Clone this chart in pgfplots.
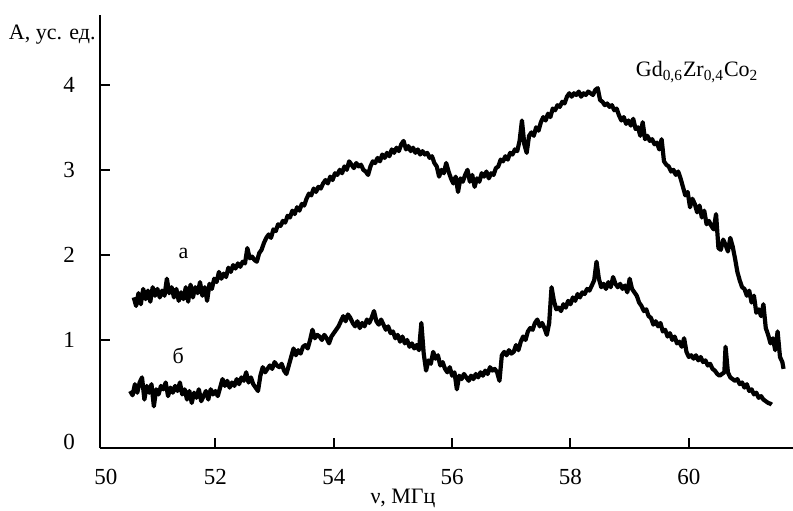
\documentclass[border=0pt]{standalone}
\usepackage{fontspec}
\setmainfont{Liberation Serif}
\usepackage{pgfplots}
\pgfplotsset{compat=1.18}

% curve a (upper)
\pgfplotstableread{
x y
50.62 1.50
50.66 1.40
50.70 1.55
50.74 1.42
50.78 1.60
50.82 1.48
50.86 1.58
50.90 1.45
50.94 1.62
50.98 1.52
51.02 1.60
51.06 1.50
51.10 1.58
51.14 1.52
51.18 1.72
51.22 1.55
51.26 1.62
51.30 1.50
51.34 1.60
51.38 1.46
51.42 1.56
51.46 1.48
51.50 1.62
51.54 1.45
51.58 1.65
51.62 1.50
51.66 1.62
51.70 1.55
51.74 1.68
51.78 1.52
51.82 1.62
51.86 1.46
51.90 1.66
51.94 1.60
51.98 1.72
52.02 1.68
52.06 1.80
52.10 1.72
52.14 1.78
52.18 1.74
52.22 1.85
52.26 1.80
52.30 1.88
52.34 1.84
52.38 1.90
52.42 1.86
52.46 1.92
52.50 1.90
52.54 2.08
52.58 1.96
52.62 1.98
52.66 1.94
52.70 1.92
52.74 2.02
52.78 2.06
52.82 2.14
52.86 2.20
52.90 2.24
52.94 2.20
52.98 2.30
53.02 2.28
53.06 2.36
53.10 2.34
53.14 2.40
53.18 2.38
53.22 2.46
53.26 2.44
53.30 2.52
53.34 2.48
53.38 2.56
53.42 2.52
53.46 2.60
53.50 2.58
53.54 2.66
53.58 2.72
53.62 2.70
53.66 2.78
53.70 2.74
53.74 2.80
53.78 2.78
53.82 2.84
53.86 2.88
53.90 2.84
53.94 2.92
53.98 2.88
54.02 2.96
54.06 2.94
54.10 3.00
54.14 2.96
54.18 3.04
54.22 3.00
54.26 3.10
54.30 3.06
54.34 3.02
54.38 3.08
54.42 3.04
54.46 3.06
54.50 3.00
54.54 2.98
54.58 2.94
54.62 3.04
54.66 3.10
54.70 3.08
54.74 3.14
54.78 3.10
54.82 3.18
54.86 3.14
54.90 3.20
54.94 3.16
54.98 3.24
55.02 3.20
55.06 3.26
55.10 3.22
55.14 3.30
55.18 3.34
55.22 3.24
55.26 3.28
55.30 3.22
55.34 3.26
55.38 3.20
55.42 3.24
55.46 3.18
55.50 3.22
55.54 3.18
55.58 3.20
55.62 3.14
55.66 3.16
55.70 3.08
55.74 3.04
55.78 2.92
55.82 3.00
55.86 2.96
55.90 3.08
55.94 2.98
55.98 2.90
56.02 2.84
56.06 2.92
56.10 2.74
56.14 2.90
56.18 2.86
56.22 2.94
56.26 3.00
56.30 2.86
56.34 2.94
56.38 2.80
56.42 2.90
56.46 2.86
56.50 2.96
56.54 2.92
56.58 2.98
56.62 2.90
56.66 2.96
56.70 2.94
56.74 3.02
56.78 3.04
56.82 3.12
56.86 3.10
56.90 3.16
56.94 3.12
56.98 3.20
57.02 3.18
57.06 3.24
57.10 3.22
57.14 3.34
57.18 3.58
57.22 3.30
57.26 3.20
57.30 3.40
57.34 3.44
57.38 3.40
57.42 3.50
57.46 3.46
57.50 3.56
57.54 3.62
57.58 3.58
57.62 3.66
57.66 3.62
57.70 3.72
57.74 3.70
57.78 3.76
57.82 3.74
57.86 3.80
57.90 3.78
57.94 3.86
57.98 3.90
58.02 3.86
58.06 3.90
58.10 3.88
58.14 3.92
58.18 3.86
58.22 3.90
58.26 3.88
58.30 3.92
58.34 3.90
58.38 3.88
58.42 3.94
58.46 3.96
58.50 3.82
58.54 3.80
58.58 3.76
58.62 3.78
58.66 3.74
58.70 3.76
58.74 3.70
58.78 3.72
58.82 3.64
58.86 3.58
58.90 3.62
58.94 3.54
58.98 3.58
59.02 3.52
59.06 3.60
59.10 3.48
59.14 3.50
59.18 3.40
59.22 3.56
59.26 3.36
59.30 3.40
59.34 3.34
59.38 3.36
59.42 3.30
59.46 3.32
59.50 3.24
59.54 3.36
59.58 3.10
59.62 3.06
59.66 3.04
59.70 2.98
59.74 3.00
59.78 2.94
59.82 2.98
59.86 2.90
59.90 2.80
59.94 2.70
59.98 2.74
60.02 2.56
60.06 2.66
60.10 2.60
60.14 2.50
60.18 2.58
60.22 2.44
60.26 2.52
60.30 2.36
60.34 2.40
60.38 2.34
60.42 2.30
60.46 2.48
60.50 2.08
60.54 2.06
60.58 2.18
60.62 2.12
60.66 2.04
60.70 2.20
60.74 2.10
60.78 1.96
60.82 1.80
60.86 1.70
60.90 1.62
60.94 1.60
60.98 1.52
61.02 1.58
61.06 1.44
61.10 1.52
61.14 1.32
61.18 1.36
61.22 1.28
61.26 1.42
61.30 1.14
61.34 1.06
61.38 0.96
61.42 1.02
61.46 0.88
61.50 1.10
61.54 0.80
61.58 0.74
61.60 0.66
}\curvea

% curve b (lower)
\pgfplotstableread{
x y
50.56 0.40
50.60 0.35
50.64 0.48
50.68 0.38
50.72 0.50
50.76 0.56
50.80 0.30
50.84 0.46
50.88 0.38
50.92 0.48
50.96 0.22
51.00 0.42
51.04 0.36
51.08 0.46
51.12 0.42
51.16 0.50
51.20 0.34
51.24 0.44
51.28 0.38
51.32 0.46
51.36 0.40
51.40 0.50
51.44 0.36
51.48 0.42
51.52 0.30
51.56 0.40
51.60 0.26
51.64 0.38
51.68 0.32
51.72 0.42
51.76 0.28
51.80 0.34
51.84 0.40
51.88 0.30
51.92 0.42
51.96 0.36
52.00 0.40
52.04 0.34
52.08 0.44
52.12 0.54
52.16 0.46
52.20 0.52
52.24 0.44
52.28 0.50
52.32 0.46
52.36 0.54
52.40 0.48
52.44 0.56
52.48 0.52
52.52 0.62
52.56 0.50
52.60 0.56
52.64 0.48
52.68 0.44
52.72 0.40
52.76 0.58
52.80 0.68
52.84 0.62
52.88 0.66
52.92 0.70
52.96 0.66
53.00 0.74
53.04 0.70
53.08 0.68
53.12 0.72
53.16 0.64
53.20 0.60
53.24 0.70
53.28 0.80
53.32 0.90
53.36 0.82
53.40 0.88
53.44 0.84
53.48 0.92
53.52 0.94
53.56 0.90
53.60 1.00
53.64 1.12
53.68 1.02
53.72 1.06
53.76 1.04
53.80 1.00
53.84 1.06
53.88 1.02
53.92 0.96
53.96 1.04
54.00 1.08
54.04 1.12
54.08 1.16
54.12 1.22
54.16 1.28
54.20 1.22
54.24 1.30
54.28 1.26
54.32 1.20
54.36 1.16
54.40 1.22
54.44 1.14
54.48 1.20
54.52 1.16
54.56 1.24
54.60 1.20
54.64 1.26
54.68 1.34
54.72 1.22
54.76 1.18
54.80 1.24
54.84 1.18
54.88 1.12
54.92 1.16
54.96 1.08
55.00 1.10
55.04 1.02
55.08 1.06
55.12 0.98
55.16 1.04
55.20 0.96
55.24 1.00
55.28 0.92
55.32 0.96
55.36 0.90
55.40 0.94
55.44 0.88
55.48 1.20
55.52 0.84
55.56 0.64
55.60 0.76
55.64 0.72
55.68 0.86
55.72 0.78
55.76 0.82
55.80 0.70
55.84 0.74
55.88 0.66
55.92 0.62
55.96 0.68
56.00 0.58
56.04 0.62
56.08 0.42
56.12 0.58
56.16 0.54
56.20 0.60
56.24 0.56
56.28 0.52
56.32 0.58
56.36 0.54
56.40 0.60
56.44 0.56
56.48 0.62
56.52 0.58
56.56 0.64
56.60 0.60
56.64 0.68
56.68 0.64
56.72 0.66
56.76 0.62
56.80 0.52
56.84 0.82
56.88 0.86
56.92 0.82
56.96 0.88
57.00 0.84
57.04 0.86
57.08 0.94
57.12 0.88
57.16 0.98
57.20 1.04
57.24 1.00
57.28 1.10
57.32 1.14
57.36 1.12
57.40 1.20
57.44 1.24
57.48 1.16
57.52 1.20
57.56 1.14
57.60 1.06
57.64 1.20
57.68 1.62
57.72 1.46
57.76 1.36
57.80 1.38
57.84 1.34
57.88 1.42
57.92 1.38
57.96 1.46
58.00 1.42
58.04 1.50
58.08 1.46
58.12 1.54
58.16 1.50
58.20 1.56
58.24 1.54
58.28 1.60
58.32 1.58
58.36 1.64
58.40 1.70
58.44 1.92
58.48 1.72
58.52 1.62
58.56 1.66
58.60 1.60
58.64 1.68
58.68 1.62
58.72 1.74
58.76 1.66
58.80 1.62
58.84 1.66
58.88 1.60
58.92 1.64
58.96 1.56
59.00 1.72
59.04 1.60
59.08 1.56
59.12 1.52
59.16 1.44
59.20 1.40
59.24 1.34
59.28 1.36
59.32 1.28
59.36 1.26
59.40 1.18
59.44 1.22
59.48 1.16
59.52 1.20
59.56 1.10
59.60 1.12
59.64 1.04
59.68 1.08
59.72 1.00
59.76 1.04
59.80 0.96
59.84 0.98
59.88 0.92
59.92 1.02
59.96 0.86
60.00 0.80
60.04 0.82
60.08 0.78
60.12 0.82
60.16 0.76
60.20 0.80
60.24 0.74
60.28 0.76
60.32 0.70
60.36 0.72
60.40 0.66
60.44 0.64
60.48 0.60
60.52 0.58
60.56 0.60
60.60 0.62
60.62 0.92
60.66 0.62
60.70 0.56
60.74 0.54
60.78 0.52
60.82 0.54
60.86 0.48
60.90 0.50
60.94 0.44
60.98 0.48
61.02 0.40
61.06 0.42
61.10 0.36
61.14 0.38
61.18 0.32
61.22 0.34
61.26 0.30
61.30 0.28
61.34 0.26
61.38 0.25
61.40 0.24
}\curveb

\begin{document}
\begin{tikzpicture}
\begin{axis}[
  scale only axis, width=346.5pt, height=216.5pt,
  xmin=50.05, xmax=61.76, ymin=-0.27, ymax=4.82,
  axis lines*=left,
  axis line style={line width=1.3pt},
  tick align=inside, major tick length=5pt,
  every tick/.style={black, line width=1pt},
  xtick={52,54,56,58,60}, ytick={1,2,3,4},
  extra x ticks={50.15}, extra x tick labels={50},
  extra y ticks={-0.2}, extra y tick labels={0},
  extra tick style={major tick length=0pt},
  /pgf/number format/assume math mode=true,
  tick label style={font=\fontsize{11.5}{13}\selectfont},
  yticklabel style={xshift=-9pt},
  xticklabel style={yshift=-7pt},
  clip=false,
]
\addplot[black, line width=2.1pt, line join=round] table[x=x,y=y] {\curvea};
\addplot[black, line width=2.1pt, line join=round] table[x=x,y=y] {\curveb};
\node[font=\fontsize{11}{13}\selectfont] at (axis cs:51.46,2.02) {а};
\node[font=\fontsize{11}{13}\selectfont] at (axis cs:51.37,0.82) {б};
\node[font=\fontsize{11}{13}\selectfont] at (axis cs:60.14,4.15) {Gd\textsubscript{0,6}Zr\textsubscript{0,4}Co\textsubscript{2}};
\node[font=\fontsize{11}{13}\selectfont, anchor=east, inner sep=0pt] at ([xshift=-2pt,yshift=-10pt]rel axis cs:0,1) {А, ус. ед.};
\node[font=\fontsize{11}{13}\selectfont] at ([yshift=-25pt]axis cs:55.17,-0.27) {ν, МГц};
\end{axis}
\pgfresetboundingbox
\useasboundingbox (-50pt,-31pt) rectangle (346.5pt,224pt);
\end{tikzpicture}
\end{document}
